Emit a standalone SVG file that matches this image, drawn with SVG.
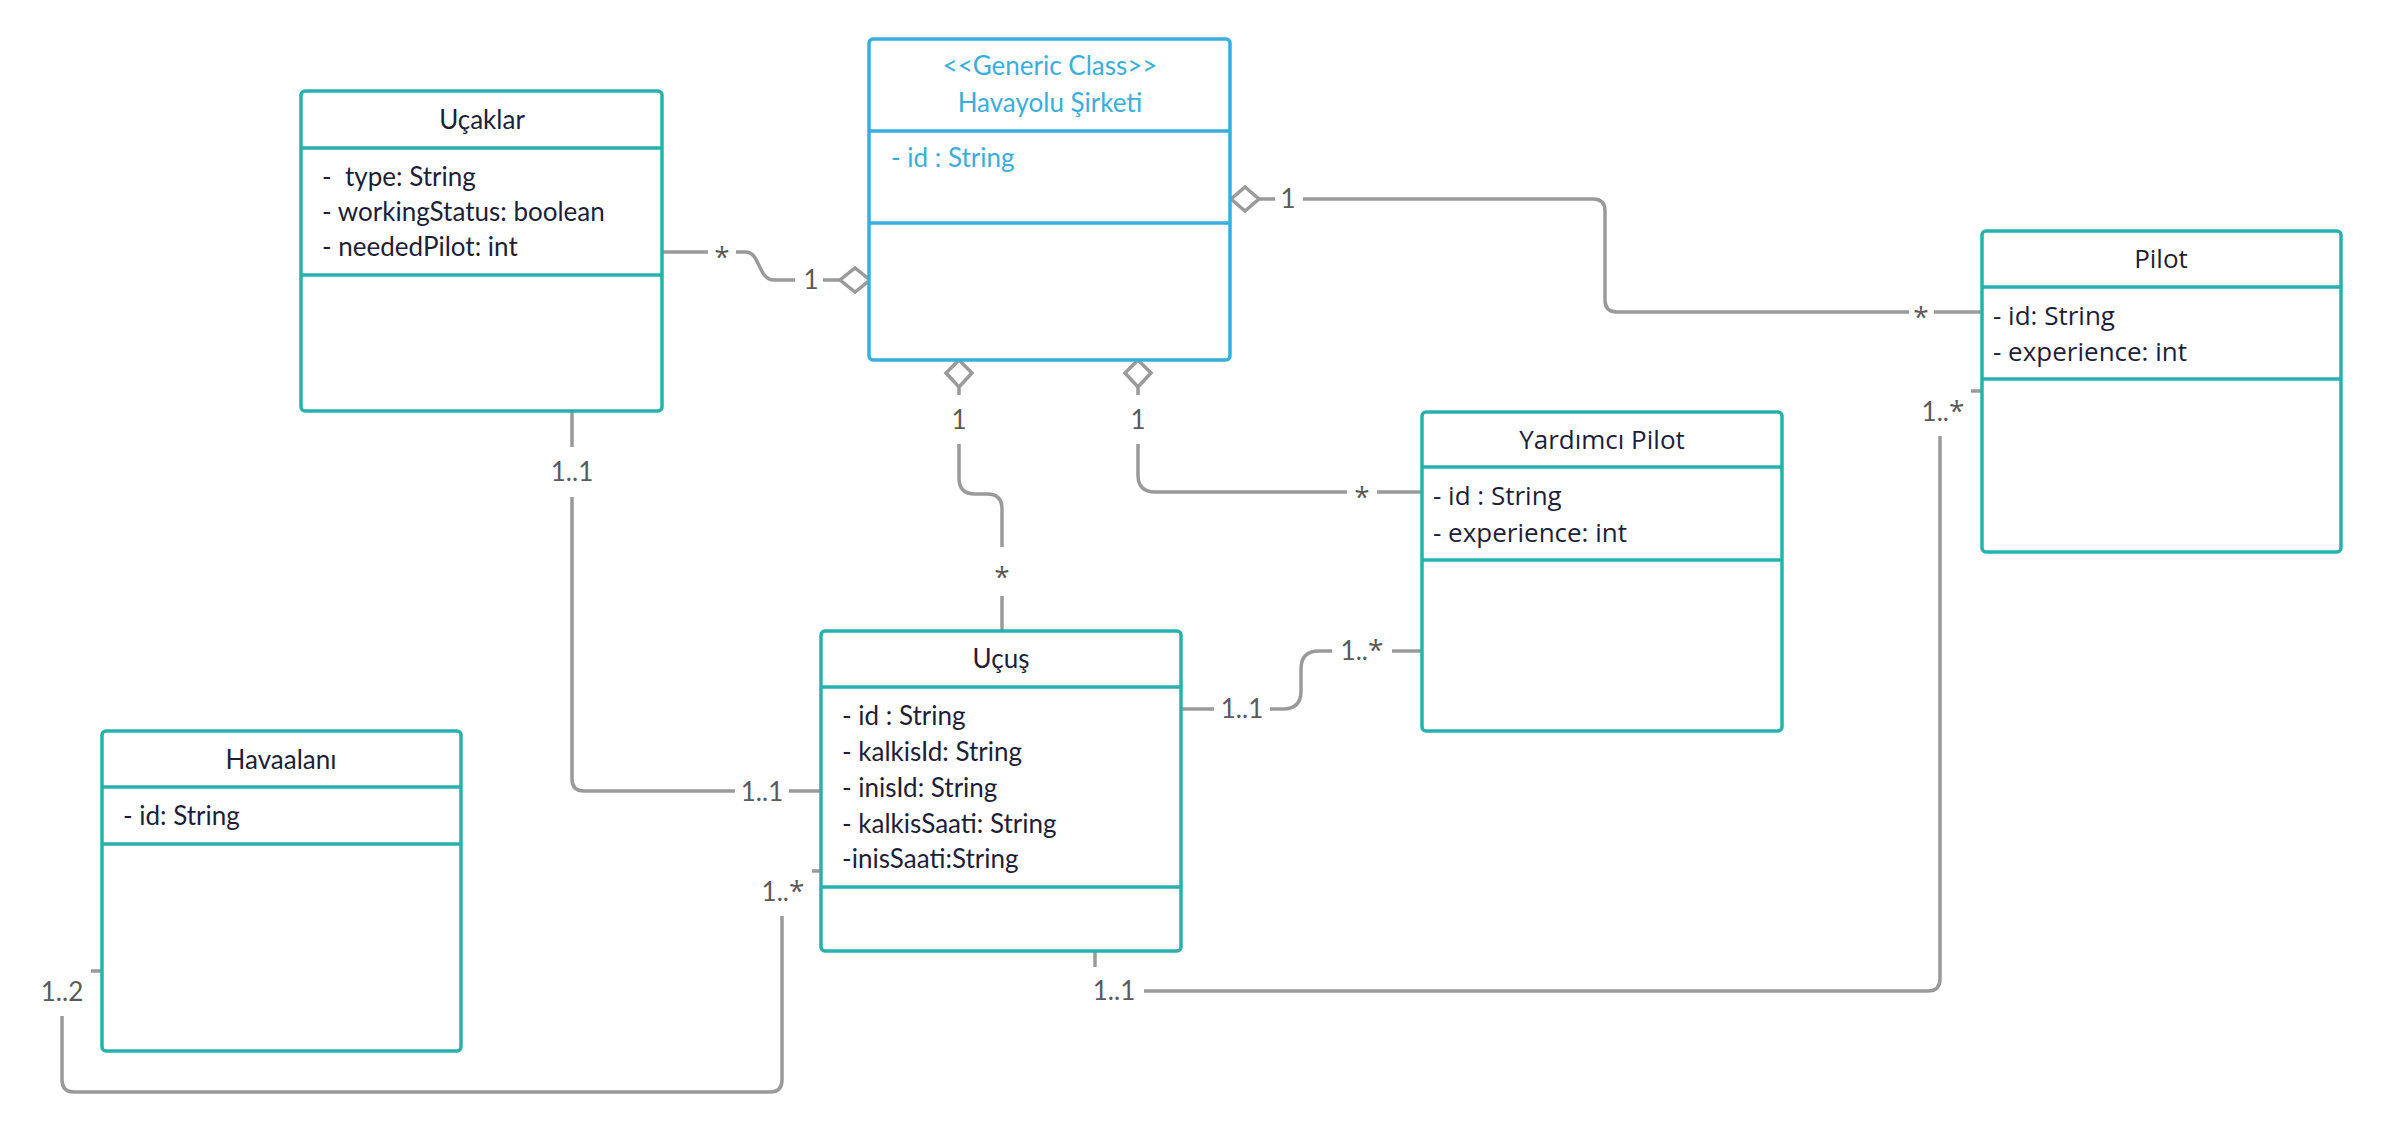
<svg xmlns="http://www.w3.org/2000/svg" width="2382" height="1132" viewBox="0 0 2382 1132">
<style>
.box{fill:#fff;stroke:#27b1ad;stroke-width:3.5}
.div{stroke:#27b1ad;stroke-width:3.5}
.gbox{fill:#fff;stroke:#3aaedb;stroke-width:3.5}
.gdiv{stroke:#3aaedb;stroke-width:3.5}
.t{font-family:Lato,"Liberation Sans",sans-serif;font-size:26px;fill:#1e1e38;white-space:pre}
.o{font-family:"Open Sans","Noto Sans",sans-serif;font-size:26px;fill:#1e1e38;white-space:pre}
.g{font-family:Lato,"Liberation Sans",sans-serif;font-size:26px;fill:#3aaedb;white-space:pre}
.c{text-anchor:middle}
.ln{fill:none;stroke:#9a9a9a;stroke-width:3.5}
.dm{fill:#fff;stroke:#9a9a9a;stroke-width:3.5}
.lb{font-family:Lato,"Liberation Sans",sans-serif;font-size:26px;fill:#5a5a5a;text-anchor:middle}
.st{font-family:"Open Sans","Noto Sans",sans-serif;font-size:28px}
</style>
<rect width="2382" height="1132" fill="#fff"/>
<g id="connectors">
<path class="ln" d="M662,252 H708 M736,252 H746 C760,252 758,280 774,280 H795 M823,280 H840"/>
<polygon class="dm" points="840,280 855,268 870,280 855,292"/>
<text class="lb st" x="722" y="267">*</text>
<text class="lb" x="811" y="289">1</text>

<polygon class="dm" points="1231,199 1245,187 1259,199 1245,211"/>
<path class="ln" d="M1259,199 H1275 M1303,199 H1593 Q1605,199 1605,211 V300 Q1605,312 1617,312 H1909 M1934,312 H1982"/>
<text class="lb" x="1288" y="208">1</text>
<text class="lb st" x="1921" y="327">*</text>

<polygon class="dm" points="959,360 972,373 959,387 946,373"/>
<path class="ln" d="M959,387 V395 M959,444 V478 Q959,494 975,494 H987 Q1002,494 1002,509 V547 M1002,596 V631"/>
<text class="lb" x="959" y="429">1</text>
<text class="lb st" x="1002" y="587">*</text>

<polygon class="dm" points="1138,360 1151,373 1138,387 1125,373"/>
<path class="ln" d="M1138,387 V395 M1138,444 V475 Q1138,492 1155,492 H1347 M1377,492 H1422"/>
<text class="lb" x="1138" y="429">1</text>
<text class="lb st" x="1362" y="507">*</text>

<path class="ln" d="M572,412 V447 M572,497 V779 Q572,791 584,791 H735 M789,791 H821"/>
<text class="lb" x="572" y="481">1..1</text>
<text class="lb" x="762" y="801">1..1</text>

<path class="ln" d="M1181,709 H1214 M1270,709 H1283 Q1301,709 1301,691 V669 Q1301,651 1319,651 H1332 M1392,651 H1422"/>
<text class="lb" x="1242" y="718">1..1</text>
<text class="lb" x="1362" y="660">1..<tspan class="st">*</tspan></text>

<path class="ln" d="M1095,951 V967 M1144,991 H1928 Q1940,991 1940,979 V436 M1971,391 H1982"/>
<text class="lb" x="1114" y="1000">1..1</text>
<text class="lb" x="1943" y="421">1..<tspan class="st">*</tspan></text>

<path class="ln" d="M91,971 H102 M62,1016 V1080 Q62,1092 74,1092 H770 Q782,1092 782,1080 V916 M812,871 H821"/>
<text class="lb" x="62" y="1001">1..2</text>
<text class="lb" x="783" y="901">1..<tspan class="st">*</tspan></text>
</g>

<g id="ucaklar">
<rect class="box" x="301" y="91" width="361" height="320" rx="4"/>
<line class="div" x1="301" y1="148" x2="662" y2="148"/>
<line class="div" x1="301" y1="275" x2="662" y2="275"/>
<text class="t c" x="482" y="129">Uçaklar</text>
<text class="t" x="322" y="186">-  type: String</text>
<text class="t" x="322" y="221">- workingStatus: boolean</text>
<text class="t" x="322" y="256">- neededPilot: int</text>
</g>

<g id="havayolu">
<rect class="gbox" x="869" y="39" width="361" height="321" rx="4"/>
<line class="gdiv" x1="869" y1="131" x2="1230" y2="131"/>
<line class="gdiv" x1="869" y1="223" x2="1230" y2="223"/>
<text class="g c" x="1050" y="75">&lt;&lt;Generic Class&gt;&gt;</text>
<text class="g c" x="1050" y="112">Havayolu Şirketi</text>
<text class="g" x="891" y="167">- id : String</text>
</g>

<g id="pilot">
<rect class="box" x="1982" y="231" width="359" height="321" rx="4"/>
<line class="div" x1="1982" y1="287" x2="2341" y2="287"/>
<line class="div" x1="1982" y1="379" x2="2341" y2="379"/>
<text class="o c" x="2161" y="268">Pilot</text>
<text class="o" x="1993" y="325">- id: String</text>
<text class="o" x="1993" y="361">- experience: int</text>
</g>

<g id="yardimci">
<rect class="box" x="1422" y="412" width="360" height="319" rx="4"/>
<line class="div" x1="1422" y1="467" x2="1782" y2="467"/>
<line class="div" x1="1422" y1="560" x2="1782" y2="560"/>
<text class="o c" x="1602" y="449">Yardımcı Pilot</text>
<text class="o" x="1433" y="505">- id : String</text>
<text class="o" x="1433" y="542">- experience: int</text>
</g>

<g id="ucus">
<rect class="box" x="821" y="631" width="360" height="320" rx="4"/>
<line class="div" x1="821" y1="687" x2="1181" y2="687"/>
<line class="div" x1="821" y1="887" x2="1181" y2="887"/>
<text class="t c" x="1001" y="668">Uçuş</text>
<text class="t" x="842" y="725">- id : String</text>
<text class="t" x="842" y="761">- kalkisId: String</text>
<text class="t" x="842" y="797">- inisId: String</text>
<text class="t" x="842" y="833">- kalkisSaati: String</text>
<text class="t" x="842" y="868">-inisSaati:String</text>
</g>

<g id="havaalani">
<rect class="box" x="102" y="731" width="359" height="320" rx="4"/>
<line class="div" x1="102" y1="787" x2="461" y2="787"/>
<line class="div" x1="102" y1="844" x2="461" y2="844"/>
<text class="t c" x="281" y="769">Havaalanı</text>
<text class="t" x="123" y="825">- id: String</text>
</g>
</svg>
